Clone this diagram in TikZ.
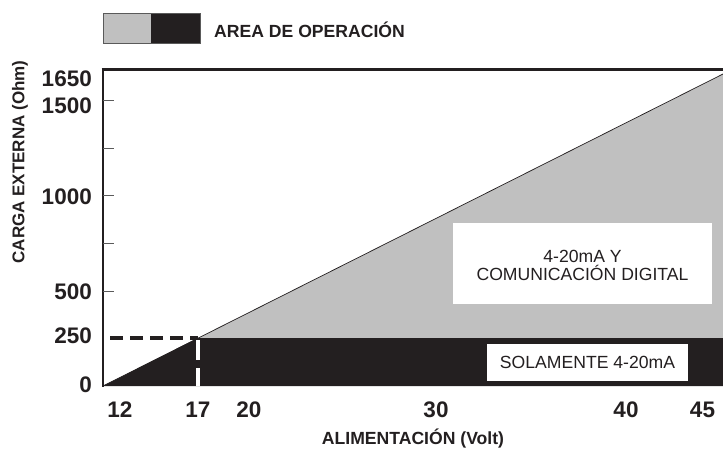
\documentclass[tikz,border=0pt]{standalone}
\usepackage{fontspec}
\setmainfont{Liberation Sans}
\definecolor{areagray}{RGB}{192,192,192}
\definecolor{areablack}{RGB}{35,31,32}
\definecolor{tickgray}{RGB}{90,90,90}
\tikzset{
  ticklab/.style={font=\bfseries\fontsize{22.5}{22.5}\selectfont, text=areablack, inner sep=0pt},
  ylab/.style={ticklab, anchor=east},
  xlab/.style={ticklab, anchor=center},
  axtitle/.style={font=\bfseries\fontsize{17.6}{17.6}\selectfont, text=areablack, inner sep=0pt},
  boxtext/.style={font=\fontsize{17.6}{18.6}\selectfont, text=areablack, align=center, inner sep=0pt},
  whitebox/.style={fill=white, draw=none},
  tickline/.style={draw=tickgray, line width=0.8pt},
}
\begin{document}
\begin{tikzpicture}[x=1pt,y=-1pt]
\useasboundingbox (0,0) rectangle (723,449);
% legend
\fill[areagray] (103,13) rectangle (151,43);
\fill[areablack] (151,13) rectangle (200,43);
\draw[tickgray, line width=0.6pt] (103,13) rectangle (200,43);
\node[axtitle, anchor=west] (legend) at (214,29.5) {AREA DE OPERACIÓN};
% regions
\coordinate (o) at (103,386);
\coordinate (k) at (198,338);
\coordinate (tr) at (723,74);
\coordinate (mr) at (723,338);
\coordinate (br) at (723,386);
\fill[areagray] (k) -- (tr) -- (mr) -- cycle;
\fill[areablack] (o) -- (k) -- (mr) -- (br) -- cycle;
\draw[areablack, line width=0.7pt] (o) -- (tr);
% frame
\draw[areablack, line width=3pt] (101.5,70) -- (723,70);
\draw[areablack, line width=2.5pt] (103,69) -- (103,387);
% ticks
\foreach \yy in {100,148,195,243,291}{
  \draw[tickline] (103,\yy) -- (114,\yy);
}
% dashed markers
\draw[areablack, line width=3.5pt, dash pattern=on 13pt off 7pt] (110,338) -- (198,338);
\draw[white, line width=4pt, dash pattern=on 20pt off 8pt] (198,340) -- (198,386);
% boxes
\fill[whitebox] (453,223) rectangle (712,304);
\node[boxtext] (digital) at (582.5,265.5) {4-20mA Y\\COMUNICACIÓN DIGITAL};
\fill[whitebox] (487,344) rectangle (688,381);
\node[boxtext] (solo) at (587.5,362.5) {SOLAMENTE 4-20mA};
% y labels
\node[ylab] (y1650) at (92,79) {1650};
\node[ylab] (y1500) at (92,106) {1500};
\node[ylab] (y1000) at (92,197) {1000};
\node[ylab] (y500) at (92,292) {500};
\node[ylab] (y250) at (92,336) {250};
\node[ylab] (y0) at (92,384.5) {0};
% x labels
\node[xlab] (x12) at (120,409.5) {12};
\node[xlab] (x17) at (198,409.5) {17};
\node[xlab] (x20) at (249,409.5) {20};
\node[xlab] (x30) at (436,409.5) {30};
\node[xlab] (x40) at (626,409.5) {40};
\node[xlab] (x45) at (702.5,409.5) {45};
% axis titles
\node[axtitle] (xtitle) at (413,439) {ALIMENTACIÓN (Volt)};
\node[axtitle, font=\bfseries\fontsize{17}{17}\selectfont, rotate=90] (ytitle) at (20,162) {CARGA EXTERNA (Ohm)};
\end{tikzpicture}
\end{document}
